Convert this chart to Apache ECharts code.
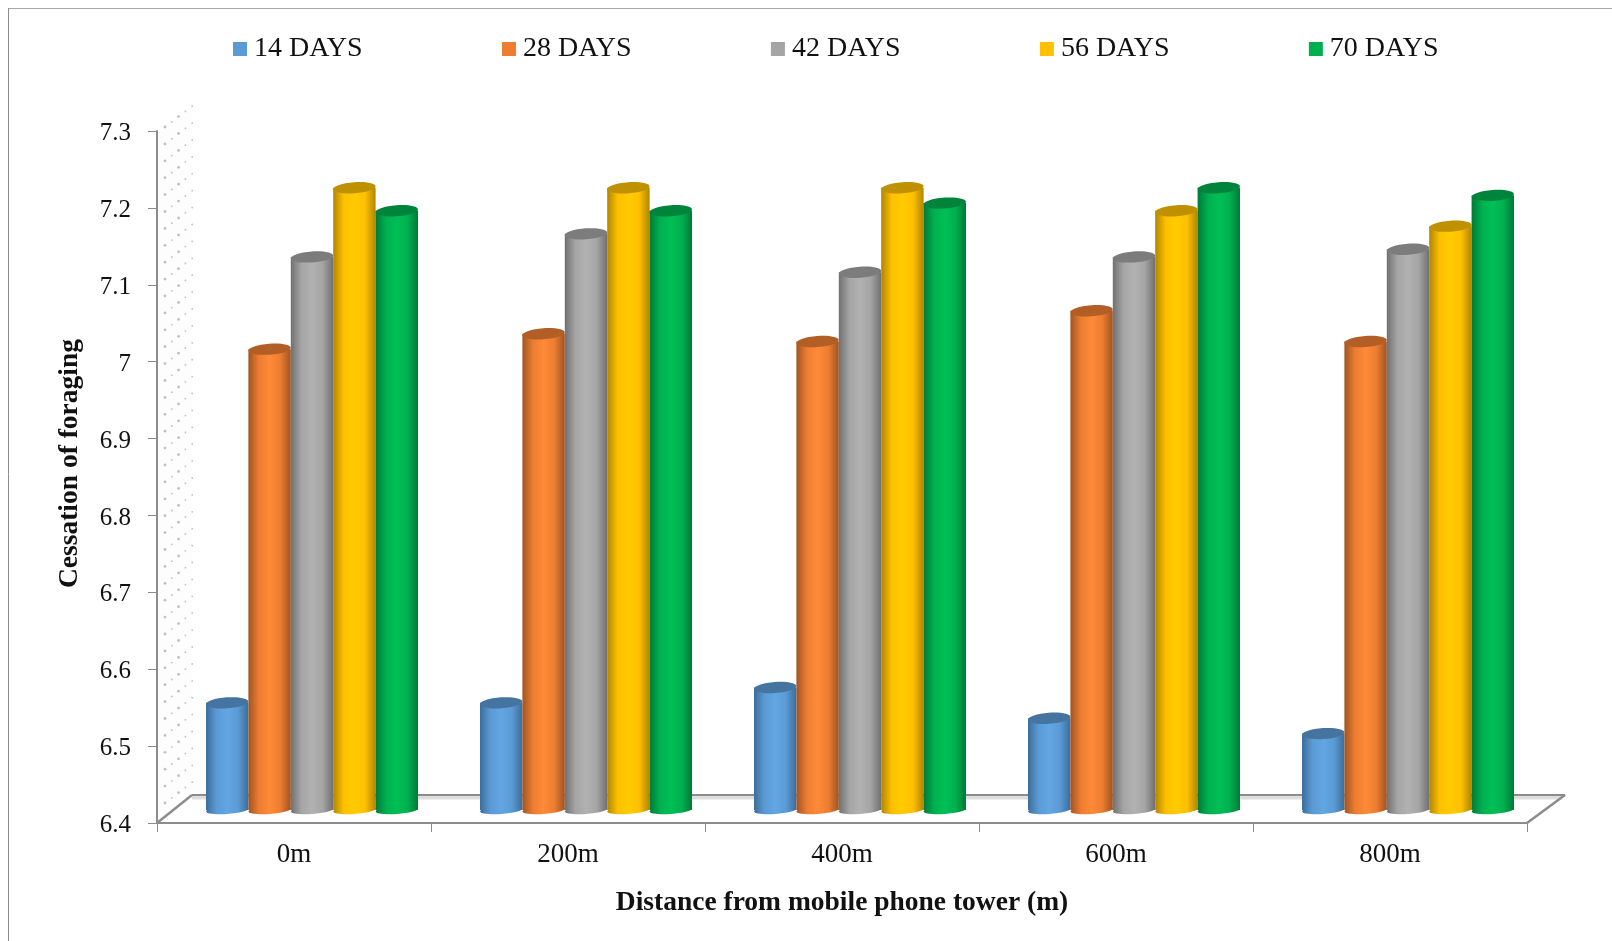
<!DOCTYPE html>
<html>
<head>
<meta charset="utf-8">
<title>Cessation of foraging</title>
<script src="https://cdn.jsdelivr.net/npm/echarts@6/dist/echarts.min.js"></script>
<style>
  html, body { margin: 0; padding: 0; background: #fff; }
  #chart { width: 1612px; height: 941px; }
</style>
</head>
<body>
<div id="chart"></div>
<script>
const categories = ['0m', '200m', '400m', '600m', '800m']
const yTicks = ['6.4', '6.5', '6.6', '6.7', '6.8', '6.9', '7', '7.1', '7.2', '7.3']
const days14 = [6.54, 6.54, 6.56, 6.52, 6.5]
const days28 = [7.0, 7.02, 7.01, 7.05, 7.01]
const days42 = [7.12, 7.15, 7.1, 7.12, 7.13]
const days56 = [7.21, 7.21, 7.21, 7.18, 7.16]
const days70 = [7.18, 7.18, 7.19, 7.21, 7.2]

const seriesDefs = [
  { name: '14 DAYS', data: days14, color: '#5b9bd5', light: '#62a6e4', edge: '#3b6d9c', lid: '#44749f' },
  { name: '28 DAYS', data: days28, color: '#ed7d31', light: '#ff8a38', edge: '#a05422', lid: '#b25e25' },
  { name: '42 DAYS', data: days42, color: '#a5a5a5', light: '#b2b2b2', edge: '#707070', lid: '#7c7c7c' },
  { name: '56 DAYS', data: days56, color: '#ffc000', light: '#ffcb00', edge: '#b08600', lid: '#bf9000' },
  { name: '70 DAYS', data: days70, color: '#00b050', light: '#00bf56', edge: '#007a38', lid: '#00843c' },
]

const SERIF = '"Liberation Serif", "Times New Roman", serif'
const AXIS_GREY = '#8c8c8c'

// pseudo 3d: bars stand in the middle of the floor, so shifted from the front axis
const BAR_W = 42.4
const SHIFT_X = 18
const SHIFT_TOP = 12.5
const SHIFT_BASE = 13
const LID_RY = 5.5
const TILT = 0.07

function cylinder(params, api, def, idx) {
  const cat = api.value(0)
  const top = api.coord([cat, api.value(1)])
  const base = api.coord([cat, 6.4])
  const cx = top[0] + SHIFT_X + (idx - 2) * BAR_W
  const topY = top[1] - SHIFT_TOP
  const baseY = base[1] - SHIFT_BASE
  const left = cx - BAR_W / 2
  const body = new echarts.graphic.LinearGradient(0, 0, 1, 0, [
    { offset: 0, color: def.edge },
    { offset: 0.25, color: def.color },
    { offset: 0.5, color: def.light },
    { offset: 0.75, color: def.color },
    { offset: 1, color: def.edge },
  ])
  return {
    type: 'group',
    children: [
      {
        type: 'ellipse',
        shape: { cx: 0, cy: 0, rx: BAR_W / 2, ry: 4 },
        x: cx, y: baseY, rotation: TILT,
        style: { fill: body },
      },
      {
        type: 'rect',
        shape: { x: left, y: topY, width: BAR_W, height: baseY - topY },
        style: { fill: body },
      },
      {
        type: 'ellipse',
        shape: { cx: 0, cy: 0, rx: BAR_W / 2, ry: LID_RY },
        x: cx, y: topY, rotation: TILT,
        style: { fill: def.lid },
      },
    ],
  }
}

// dotted side wall, decoration only
const wallDots = []
for (let c = 0; c < 5; c++) {
  const x = 165 + c * 6.8
  const startY = 127 - c * 5.2
  const floorY = 823 - (x - 157) * 0.8
  for (let r = 0; r < 42; r++) {
    const y = startY + r * 16.9
    if (y > floorY - 4) continue
    wallDots.push({
      type: 'circle',
      silent: true,
      shape: { cx: x, cy: y, r: c === 2 || c === 0 ? 1.4 : 0.9 },
      style: { fill: '#c0c0c0' },
      z: 1,
    })
  }
}

const frameLine = (x1, y1, x2, y2, stroke, lineWidth) => ({
  type: 'line',
  silent: true,
  shape: { x1, y1, x2, y2 },
  style: { stroke, lineWidth },
  z: 1,
})

const chart = echarts.init(document.getElementById('chart'))

chart.setOption({
  animation: false,
  backgroundColor: '#fff',
  textStyle: { fontFamily: SERIF },
  legend: {
    top: 35,
    left: 233,
    padding: 0,
    itemWidth: 14,
    itemHeight: 14,
    itemGap: 139.3,
    icon: 'rect',
    textStyle: { fontFamily: SERIF, fontSize: 28, color: '#111', padding: [0, 0, 0, 2] },
    data: seriesDefs.map(d => d.name),
  },
  grid: { left: 157, right: 85, top: 131, height: 692 },
  xAxis: {
    type: 'category',
    data: categories,
    name: 'Distance from mobile phone tower (m)',
    nameLocation: 'middle',
    nameGap: 66,
    nameTextStyle: { fontFamily: SERIF, fontSize: 27.5, fontWeight: 'bold', color: '#111' },
    axisLine: { lineStyle: { color: AXIS_GREY, width: 2 } },
    axisTick: { show: true, alignWithLabel: false, length: 9, lineStyle: { color: AXIS_GREY, width: 1 } },
    axisLabel: { fontFamily: SERIF, fontSize: 27, color: '#111', margin: 18 },
  },
  yAxis: {
    type: 'value',
    min: 6.4,
    max: 7.3,
    interval: 0.1,
    name: 'Cessation of foraging',
    nameLocation: 'middle',
    nameGap: 73,
    nameTextStyle: {
      fontFamily: SERIF,
      fontSize: 27.5,
      fontWeight: 'bold',
      color: '#111',
      padding: [0, 0, 0, 27],
    },
    splitLine: { show: false },
    axisLine: { show: true, lineStyle: { color: AXIS_GREY, width: 2 } },
    axisTick: { show: true, length: 9, lineStyle: { color: AXIS_GREY, width: 1 } },
    axisLabel: {
      color: '#111',
      margin: 26,
      formatter: (v) => '{t|' + yTicks[Math.round((v - 6.4) * 10)] + '}',
      rich: {
        t: { fontFamily: SERIF, fontSize: 25, color: '#111', padding: [5, 0, 0, 0] },
      },
    },
  },
  series: seriesDefs.map((def, idx) => ({
    name: def.name,
    type: 'custom',
    itemStyle: { color: def.color },
    data: def.data.map((v, i) => [i, v]),
    encode: { x: 0, y: 1 },
    clip: false,
    z: 5 + idx,
    renderItem: (params, api) => cylinder(params, api, def, idx),
  })),
  graphic: [
    {
      type: 'polygon',
      silent: true,
      shape: { points: [[157, 131], [192, 106], [192, 795], [157, 823]] },
      style: { fill: '#fdfdfd' },
      z: 0,
    },
    ...wallDots,
    frameLine(192, 797.5, 1561, 797.5, '#dedede', 4),
    frameLine(192, 795, 1565, 795, AXIS_GREY, 2),
    frameLine(157, 823, 192, 795, AXIS_GREY, 2.5),
    frameLine(1527, 823, 1565, 795, AXIS_GREY, 2.5),
    // outer chart frame, only top and left show in the picture
    frameLine(8, 8.5, 1612, 8.5, '#a8a8a8', 1),
    frameLine(8.5, 8, 8.5, 941, '#8c8c8c', 1),
  ],
})

window.addEventListener('resize', () => chart.resize())
</script>
</body>
</html>
